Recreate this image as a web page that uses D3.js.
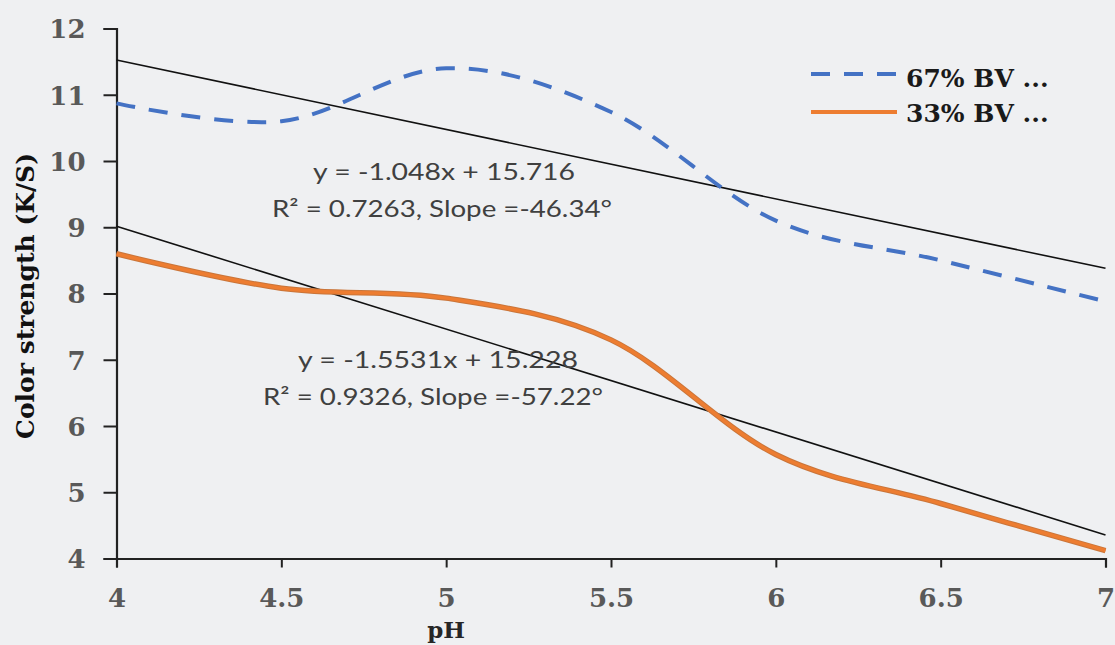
<!DOCTYPE html>
<html><head><meta charset="utf-8">
<script src="https://cdn.jsdelivr.net/npm/d3@7"></script>
<style>
html,body{margin:0;padding:0;background:#eff0f2;}
svg{display:block;}
</style></head><body>
<script>
const pH = [4, 4.5, 5, 5.5, 6, 6.5, 7];
const bv67 = [10.87, 10.6, 11.4, 10.74, 9.1, 8.5, 7.88];
const bv33 = [8.6, 8.08, 7.93, 7.3, 5.57, 4.83, 4.12];
const seriesNames = ["67% BV ...", "33% BV ..."];
const xTicks = [4, 4.5, 5, 5.5, 6, 6.5, 7];
const yTicks = [4, 5, 6, 7, 8, 9, 10, 11, 12];
const trend67 = {slope: -1.048, intercept: 15.716};
const trend33 = {slope: -1.5531, intercept: 15.228};
const eq67 = ["y = -1.048x + 15.716", "R² = 0.7263, Slope =-46.34°"];
const eq33 = ["y = -1.5531x + 15.228", "R² = 0.9326, Slope =-57.22°"];

const W = 1115, H = 645;
const svg = d3.select("body").append("svg").attr("width", W).attr("height", H);
svg.append("rect").attr("width", W).attr("height", H).attr("fill", "#eff0f2");

const x = d3.scaleLinear().domain([4, 7]).range([116.5, 1105.5]);
const y = d3.scaleLinear().domain([4, 12]).range([558.5, 28.5]);
const serif = "'DejaVu Serif', serif";

// axes
const xAxis = svg.append("g").attr("transform", `translate(0,${y(4)})`)
  .call(d3.axisBottom(x).tickValues(xTicks).tickSize(9).tickPadding(21).tickFormat(d3.format("")));
const yAxis = svg.append("g").attr("transform", `translate(${x(4)},0)`)
  .call(d3.axisLeft(y).tickValues(yTicks).tickSize(13).tickPadding(18));
[xAxis, yAxis].forEach(g => {
  g.select(".domain").attr("stroke", "#222").attr("stroke-width", 2.2);
  g.selectAll(".tick line").attr("stroke", "#222").attr("stroke-width", 2);
  g.selectAll(".tick text").attr("fill", "#595959")
    .style("font-family", serif).style("font-weight", "bold").style("font-size", "26px");
});
yAxis.selectAll(".tick text").attr("dy", "0.36em");

// axis titles
svg.append("text").attr("x", x(5)).attr("y", 638).attr("text-anchor", "middle")
  .style("font-family", serif).style("font-weight", "bold").style("font-size", "23px")
  .attr("fill", "#262626").text("pH");
svg.append("text").attr("transform", `translate(34,296) rotate(-90)`).attr("text-anchor", "middle")
  .style("font-family", serif).style("font-weight", "bold").style("font-size", "25px")
  .attr("fill", "#111").text("Color strength (K/S)");

// trendlines
[trend67, trend33].forEach(t => {
  svg.append("line")
    .attr("x1", x(4)).attr("y1", y(t.slope * 4 + t.intercept))
    .attr("x2", x(7)).attr("y2", y(t.slope * 7 + t.intercept))
    .attr("stroke", "#111").attr("stroke-width", 1.6);
});

const line = d3.line().x(d => x(d[0])).y(d => y(d[1])).curve(d3.curveCatmullRom.alpha(0));

svg.append("path").datum(pH.map((p, i) => [p, bv67[i]]))
  .attr("d", line).attr("fill", "none").attr("stroke", "#4472c4").attr("stroke-width", 4)
  .attr("stroke-dasharray", "19,14");

svg.append("path").datum(pH.map((p, i) => [p, bv33[i]]))
  .attr("d", line).attr("fill", "none").attr("stroke", "#c9753a").attr("stroke-width", 5.5);
svg.append("path").datum(pH.map((p, i) => [p, bv33[i]]))
  .attr("d", line).attr("fill", "none").attr("stroke", "#ed7d31").attr("stroke-width", 3.5);

// equations
const eqFont = "Lato, 'Open Sans', sans-serif";
function eq(lines, cxs, widths, y0) {
  lines.forEach((s, i) => {
    svg.append("text").attr("x", cxs[i]).attr("y", y0 + i * 37).attr("text-anchor", "middle")
      .attr("textLength", widths[i]).attr("lengthAdjust", "spacingAndGlyphs")
      .style("font-family", eqFont).style("font-size", "24px").attr("fill", "#404040").text(s);
  });
}
eq(eq67, [444, 442], [262, 340], 180);
eq(eq33, [438, 433], [280, 340], 368);

// legend
const lg = svg.append("g");
lg.append("line").attr("x1", 811).attr("x2", 897).attr("y1", 74).attr("y2", 74)
  .attr("stroke", "#4472c4").attr("stroke-width", 4).attr("stroke-dasharray", "19,14");
lg.append("line").attr("x1", 811).attr("x2", 897).attr("y1", 112).attr("y2", 112)
  .attr("stroke", "#ed7d31").attr("stroke-width", 4);
seriesNames.forEach((n, i) => {
  lg.append("text").attr("x", 906).attr("y", 87 + i * 35)
    .style("font-family", serif).style("font-weight", "bold").style("font-size", "25px")
    .attr("fill", "#1a1a1a").text(n);
});
</script>
</body></html>
